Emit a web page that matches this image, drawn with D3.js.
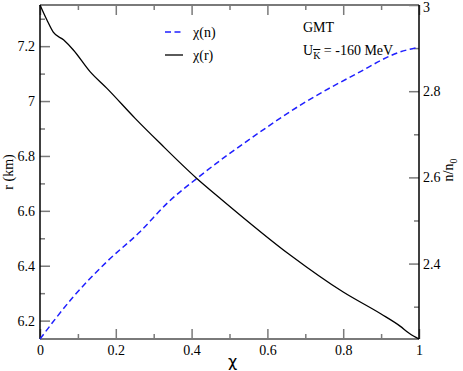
<!DOCTYPE html>
<html>
<head>
<meta charset="utf-8">
<script src="https://cdn.jsdelivr.net/npm/d3@7"></script>
<style>
  body { margin: 0; background: #fff; }
</style>
</head>
<body>
<div id="chart"></div>
<script>
// chi values and the two curves
var chiR = [0, 0.018, 0.035, 0.062, 0.088, 0.132, 0.176, 0.251, 0.317, 0.413, 0.475, 0.66, 0.8, 0.9, 0.95, 0.975, 1];
var radius = [7.35, 7.296, 7.251, 7.223, 7.186, 7.107, 7.047, 6.937, 6.846, 6.719, 6.646, 6.439, 6.304, 6.224, 6.18, 6.153, 6.133];
var chiN = [0, 0.088, 0.176, 0.264, 0.339, 0.413, 0.58, 0.686, 0.836, 0.95, 1];
var density = [2.225, 2.323, 2.404, 2.474, 2.543, 2.597, 2.705, 2.767, 2.841, 2.891, 2.902];

var xTicks = [0, 0.2, 0.4, 0.6, 0.8, 1];
var rTicks = [6.2, 6.4, 6.6, 6.8, 7, 7.2];
var nTicks = [2.4, 2.6, 2.8, 3];

var fullWidth = 463;
var fullHeight = 371;
var margin = {top: 5, right: 44, bottom: 32, left: 40};
var width = fullWidth - margin.left - margin.right;
var height = fullHeight - margin.top - margin.bottom;
var serif = "'Liberation Serif', 'Times New Roman', Times, serif";

var svg = d3.select("#chart")
            .append("svg")
            .attr("width", fullWidth)
            .attr("height", fullHeight)
            .attr("font-family", serif)
            .append("g")
            .attr("transform", "translate(" + margin.left + "," + margin.top + ")");

var xScale = d3.scaleLinear().domain([0, 1]).range([0, width]);
var rScale = d3.scaleLinear().domain([6.133, 7.35]).range([height, 0]);
var nScale = d3.scaleLinear().domain([2.225, 3]).range([height, 0]);

var fmt = function(d){ return String(+d.toFixed(1)); };
var tickCol = "#7a7a7a";

function minor(lo, hi){
  var out = [];
  for (var v = lo; v <= hi + 1e-9; v += 0.2) out.push(+v.toFixed(2));
  return out;
}

// minor ticks first
svg.append("g").attr("transform", "translate(0," + height + ")")
   .call(d3.axisBottom(xScale).tickValues(minor(0.1, 0.9)).tickSize(-5).tickFormat(""));
svg.append("g")
   .call(d3.axisTop(xScale).tickValues(minor(0.1, 0.9)).tickSize(-5).tickFormat(""));
svg.append("g")
   .call(d3.axisLeft(rScale).tickValues(minor(6.3, 7.3)).tickSize(-5).tickFormat(""));
svg.append("g").attr("transform", "translate(" + width + ",0)")
   .call(d3.axisRight(nScale).tickValues(minor(2.3, 2.9)).tickSize(-5).tickFormat(""));

// major ticks
svg.append("g").attr("transform", "translate(0," + height + ")")
   .call(d3.axisBottom(xScale).tickValues(xTicks).tickSize(-10).tickPadding(6).tickFormat(fmt));
svg.append("g")
   .call(d3.axisTop(xScale).tickValues(xTicks).tickSize(-10).tickFormat(""));
svg.append("g")
   .call(d3.axisLeft(rScale).tickValues(rTicks).tickSize(-10).tickPadding(5).tickFormat(fmt));
svg.append("g").attr("transform", "translate(" + width + ",0)")
   .call(d3.axisRight(nScale).tickValues(nTicks).tickSize(-10).tickPadding(4).tickFormat(fmt));

svg.selectAll(".domain").remove();
svg.selectAll("g").attr("font-family", serif).attr("font-size", 14);
svg.selectAll(".tick line").attr("stroke", tickCol).attr("stroke-width", 1.5);
svg.selectAll(".tick text").attr("fill", "#000");
// keep the top label "3" inside the picture
svg.selectAll(".tick text").filter(function(d){ return d === 3; }).attr("dy", "0.45em");

// frame
svg.append("line").attr("x1", 0).attr("x2", width).attr("y1", 0).attr("y2", 0)
   .attr("stroke", tickCol).attr("stroke-width", 2);
svg.append("line").attr("x1", 0).attr("x2", width).attr("y1", height).attr("y2", height)
   .attr("stroke", tickCol).attr("stroke-width", 2);
svg.append("line").attr("x1", 0).attr("x2", 0).attr("y1", 0).attr("y2", height)
   .attr("stroke", "#000").attr("stroke-width", 1.5);
svg.append("line").attr("x1", width).attr("x2", width).attr("y1", 0).attr("y2", height)
   .attr("stroke", "#000").attr("stroke-width", 1.5);

// curves
var lineR = d3.line().x(function(d){ return xScale(d[0]); }).y(function(d){ return rScale(d[1]); })
              .curve(d3.curveMonotoneX);
var lineN = d3.line().x(function(d){ return xScale(d[0]); }).y(function(d){ return nScale(d[1]); })
              .curve(d3.curveMonotoneX);

svg.append("path").datum(d3.zip(chiN, density))
   .attr("d", lineN).attr("fill", "none")
   .attr("stroke", "#1f1fff").attr("stroke-width", 1.5).attr("stroke-dasharray", "6,3.5");
svg.append("path").datum(d3.zip(chiR, radius))
   .attr("d", lineR).attr("fill", "none")
   .attr("stroke", "#000").attr("stroke-width", 1.3);

// legend
svg.append("line").attr("x1", 125).attr("x2", 143).attr("y1", 27).attr("y2", 27)
   .attr("stroke", "#1f1fff").attr("stroke-width", 1.5).attr("stroke-dasharray", "6,3.5");
svg.append("text").attr("x", 153).attr("y", 32).attr("font-size", 14).text("χ(n)");
svg.append("line").attr("x1", 125).attr("x2", 143).attr("y1", 50).attr("y2", 50)
   .attr("stroke", "#000").attr("stroke-width", 1.3);
svg.append("text").attr("x", 153).attr("y", 55).attr("font-size", 14).text("χ(r)");

// annotation
svg.append("text").attr("x", 263).attr("y", 27).attr("font-size", 14).text("GMT");
var u = svg.append("text").attr("x", 263).attr("y", 50).attr("font-size", 14);
u.append("tspan").text("U");
u.append("tspan").attr("dy", 4).attr("font-size", 10).style("text-decoration", "overline").text("K");
u.append("tspan").attr("dy", -4).text(" = -160 MeV");

// axis titles
svg.append("text").attr("x", width / 2 + 3).attr("y", height + 28)
   .attr("text-anchor", "middle").attr("font-family", "'DejaVu Sans', sans-serif")
   .attr("font-size", 16).text("χ");
svg.append("text").attr("transform", "translate(-27," + (height / 2) + ") rotate(-90)")
   .attr("text-anchor", "middle").attr("font-size", 14).text("r (km)");
var nt = svg.append("text").attr("transform", "translate(" + (width + 34) + "," + (height / 2 - 2) + ") rotate(-90)")
   .attr("text-anchor", "middle").attr("font-size", 14);
nt.append("tspan").text("n/n");
nt.append("tspan").attr("dy", 4).attr("font-size", 10).text("0");
</script>
</body>
</html>
